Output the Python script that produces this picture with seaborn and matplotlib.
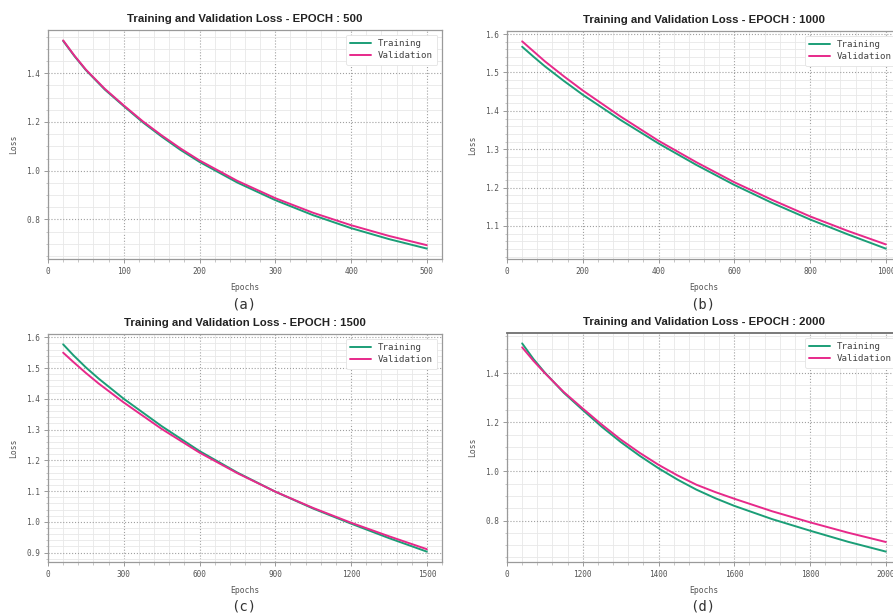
import matplotlib
matplotlib.use("Agg")
import matplotlib.pyplot as plt
from matplotlib.ticker import AutoMinorLocator, MultipleLocator
import seaborn as sns
import pandas as pd

# Data
epochs_a = [20, 35, 50, 75, 100, 125, 150, 175, 200, 250, 300, 350, 400, 450, 500]
train_a = [1.533, 1.470, 1.413, 1.333, 1.265, 1.199, 1.140, 1.085, 1.036,
           0.951, 0.879, 0.817, 0.764, 0.719, 0.680]
val_a = [1.535, 1.472, 1.415, 1.336, 1.268, 1.203, 1.145, 1.091, 1.042,
         0.958, 0.887, 0.827, 0.776, 0.732, 0.694]

epochs_b = [40, 70, 100, 150, 200, 300, 400, 500, 600, 700, 800, 900, 1000]
train_b = [1.567, 1.541, 1.516, 1.478, 1.442, 1.376, 1.315, 1.259, 1.207,
           1.160, 1.117, 1.078, 1.041]
val_b = [1.581, 1.555, 1.529, 1.490, 1.453, 1.385, 1.322, 1.266, 1.214,
         1.168, 1.125, 1.087, 1.052]

epochs_c = [60, 100, 150, 200, 300, 450, 600, 750, 900, 1050, 1200, 1350, 1500]
train_c = [1.577, 1.542, 1.502, 1.466, 1.400, 1.311, 1.230, 1.160, 1.098,
           1.043, 0.994, 0.947, 0.903]
val_c = [1.550, 1.520, 1.484, 1.450, 1.388, 1.302, 1.225, 1.158, 1.098,
         1.045, 0.997, 0.953, 0.911]

epochs_d = [80, 140, 200, 300, 400, 500, 600, 700, 800, 900, 1000, 1100,
            1200, 1400, 1600, 1800, 2000]
train_d = [1.521, 1.457, 1.402, 1.320, 1.250, 1.182, 1.120, 1.064, 1.013,
           0.967, 0.926, 0.891, 0.860, 0.806, 0.759, 0.714, 0.674]
val_d = [1.505, 1.450, 1.400, 1.323, 1.256, 1.191, 1.130, 1.076, 1.027,
         0.984, 0.946, 0.916, 0.889, 0.838, 0.793, 0.751, 0.713]

# x tick labels as printed on panel (d)
xticklabels_d = ["0", "1200", "1400", "1600", "1800", "2000"]

panels = [
    ("(a)", 500, epochs_a, train_a, val_a, 100, None),
    ("(b)", 1000, epochs_b, train_b, val_b, 200, None),
    ("(c)", 1500, epochs_c, train_c, val_c, 300, None),
    ("(d)", 2000, epochs_d, train_d, val_d, 400, xticklabels_d),
]

W, H = 893, 615
# pixel boxes (left, top, right, bottom)
boxes = [(48, 30, 442, 259), (507, 31, 901, 259),
         (48, 334, 442, 562), (507, 333, 901, 562)]
sub_y = [304, 304, 607, 607]

sns.set_theme(style="white")
plt.rcParams["font.family"] = ["DejaVu Sans Mono", "DejaVu Sans"]

palette = sns.color_palette("Dark2")
c_train = palette[0]
c_val = palette[3]

fig = plt.figure(figsize=(W / 100, H / 100), dpi=100)

for (tag, ep, x, tr, va, step, labels), (l, t, r, b), sy in zip(panels, boxes, sub_y):
    ax = fig.add_axes([l / W, 1 - b / H, (r - l) / W, (b - t) / H])
    df = pd.DataFrame({"Epochs": x, "Training": tr, "Validation": va})
    sns.lineplot(data=df, x="Epochs", y="Training", ax=ax, color=c_train,
                 linewidth=1.4, label="Training")
    sns.lineplot(data=df, x="Epochs", y="Validation", ax=ax, color=c_val,
                 linewidth=1.4, label="Validation")

    ax.set_xlim(0, ep * 1.04)
    ax.xaxis.set_major_locator(MultipleLocator(step))
    ax.xaxis.set_minor_locator(AutoMinorLocator(5))
    ax.yaxis.set_minor_locator(AutoMinorLocator())
    if labels is not None:
        ax.set_xticks(range(0, ep + 1, step))
        ax.set_xticklabels(labels)

    ax.grid(which="major", color="#a0a0a0", linestyle=":", linewidth=0.8)
    ax.grid(which="minor", color="#e8e8e8", linestyle="-", linewidth=0.6)
    ax.set_axisbelow(True)
    for sp in ax.spines.values():
        sp.set_color("#9a9a9a")
        sp.set_linewidth(0.9)
    if tag == "(d)":
        ax.spines["top"].set_color("#707070")
        ax.spines["top"].set_linewidth(1.3)
    ax.tick_params(which="major", direction="out", length=3, width=0.7,
                   color="#9a9a9a", labelsize=5.6, labelcolor="#555555",
                   bottom=True, left=True, pad=2.5)
    ax.tick_params(which="minor", direction="out", length=1.8, width=0.5,
                   color="#b0b0b0", bottom=True, left=True)

    ax.set_xlabel("Epochs", fontsize=5.8, color="#555555", labelpad=5)
    ax.set_ylabel("Loss", fontsize=5.8, color="#555555", labelpad=6)
    ax.set_title(f"Training and Validation Loss - EPOCH : {ep}",
                 family="Liberation Sans", fontweight="bold", fontsize=8.2,
                 color="#222222", pad=6)

    leg = ax.legend(loc="upper right", fontsize=6.6, handlelength=2.2,
                    frameon=True, framealpha=1, edgecolor="#e3e3e3",
                    borderpad=0.5, labelspacing=0.35)
    leg.get_frame().set_linewidth(0.6)
    for txt in leg.get_texts():
        txt.set_color("#444444")

    fig.text(((l + r) / 2 - 1) / W, 1 - sy / H, tag, ha="center", va="center",
             fontsize=10, color="#333333")

fig.savefig("out.png", dpi=100)
